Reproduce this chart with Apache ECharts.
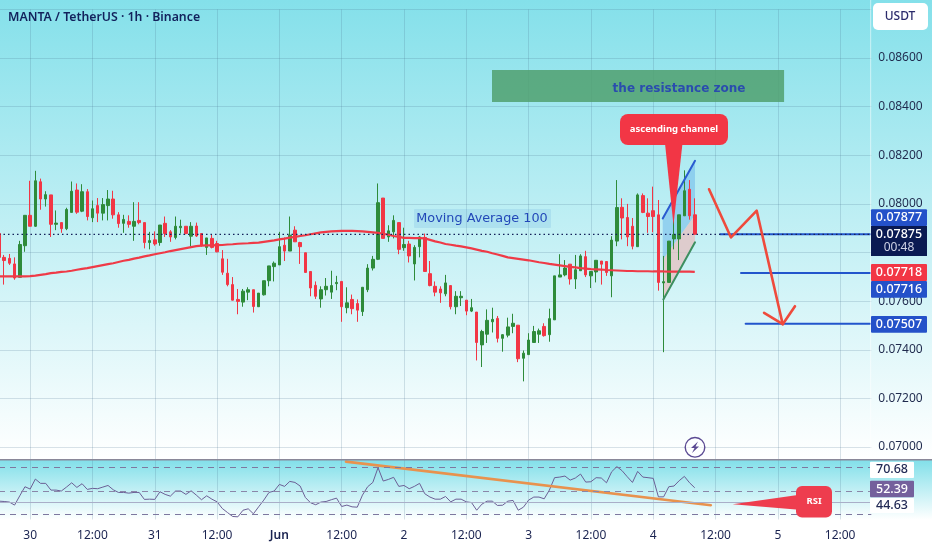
<!DOCTYPE html>
<html><head><meta charset="utf-8"><style>html,body{margin:0;padding:0;background:#fff}#c{width:932px;height:550px}</style>
<script src="https://cdn.jsdelivr.net/npm/echarts@6/dist/echarts.min.js"></script></head><body><div id="c"></div><script>
// prices below are in 1e-5 USDT units
const opens=[7878,7780,7776,7753,7698,7828,7953,7908,8091,8020,8037,7916,7923,7898,7965,8057,7970,8050,7943,7993,7962,7993,8020,7955,7920,7928,7908,7932,7923,7841,7852,7841,7920,7885,7862,7902,7908,7867,7909,7878,7821,7858,7837,7774,7715,7668,7607,7596,7637,7647,7577,7626,7684,7742,7749,7830,7806,7892,7841,7799,7722,7665,7609,7647,7637,7672,7681,7573,7607,7590,7557,7647,7736,7772,8024,7864,7885,7923,7820,7835,7753,7824,7862,7713,7661,7650,7630,7664,7577,7614,7604,7559,7555,7420,7464,7515,7529,7447,7460,7496,7501,7365,7380,7430,7464,7496,7462,7523,7699,7708,7752,7691,7725,7783,7704,7720,7765,7763,7704,7847,7986,7944,7908,7824,8034,7962,7972,7955,7675,7677,7856,7856,7951,8060,7955];
const closes=[7780,7767,7756,7695,7833,7953,7908,8095,8020,8038,7916,7921,7898,7977,8052,7966,8050,7948,7980,7962,7997,8020,7955,7919,7936,7916,7928,7923,7841,7849,7835,7913,7878,7864,7908,7908,7878,7908,7868,7830,7860,7821,7803,7719,7668,7604,7599,7641,7647,7578,7633,7684,7745,7756,7824,7806,7871,7844,7824,7718,7654,7620,7647,7661,7664,7677,7577,7593,7569,7563,7657,7736,7772,8005,7858,7889,7932,7813,7833,7786,7821,7864,7722,7664,7637,7634,7675,7577,7620,7620,7559,7573,7430,7475,7521,7525,7447,7462,7494,7509,7363,7386,7440,7475,7478,7458,7528,7704,7708,7736,7691,7729,7786,7708,7722,7768,7752,7718,7851,7985,7942,7864,7826,8037,7965,7948,7948,7677,7680,7847,7874,7955,8054,7951,7875];
const lows=[7780,7668,7749,7688,7698,7803,7908,7905,7976,7989,7864,7892,7881,7892,7965,7959,7966,7932,7925,7925,7932,7932,7939,7902,7881,7902,7848,7916,7817,7813,7828,7828,7864,7844,7854,7878,7875,7826,7864,7824,7790,7817,7801,7708,7661,7603,7546,7577,7604,7553,7576,7623,7661,7681,7749,7765,7806,7844,7753,7718,7620,7609,7573,7623,7609,7645,7515,7550,7546,7515,7539,7637,7726,7769,7858,7844,7858,7793,7807,7759,7685,7780,7722,7661,7620,7593,7620,7566,7546,7580,7542,7555,7356,7329,7428,7471,7430,7392,7451,7468,7349,7270,7380,7428,7428,7454,7433,7523,7699,7702,7668,7650,7725,7699,7654,7677,7668,7704,7616,7826,7854,7826,7813,7824,7962,7881,7883,7643,7390,7677,7813,7769,7951,7935,7874];
const highs=[7878,7790,7794,7780,7848,7953,8095,8136,8104,8052,8037,7973,7923,7984,8092,8084,8081,8061,8014,8024,8024,8057,8054,7966,7955,7953,8007,8007,7923,7885,7887,7913,7948,7892,7948,7935,7908,7925,7923,7878,7860,7875,7848,7810,7774,7699,7650,7650,7657,7647,7633,7684,7745,7763,7885,7862,7948,7908,7844,7799,7722,7681,7661,7695,7725,7704,7681,7657,7627,7607,7657,7752,7786,8084,8024,7912,7953,7923,7902,7848,7830,7867,7878,7765,7681,7661,7708,7664,7641,7641,7604,7609,7555,7482,7566,7573,7539,7464,7532,7548,7501,7397,7468,7498,7487,7509,7569,7704,7793,7769,7752,7790,7793,7807,7722,7768,7765,7765,7867,8098,8023,8000,7942,8043,8043,8023,8071,8016,7786,7847,7969,7955,8138,8098,8023];
const ma100=[7702,7702,7702,7702,7702,7702,7703,7705,7708,7711,7715,7717,7720,7722,7725,7729,7733,7736,7740,7744,7748,7752,7756,7761,7766,7770,7775,7779,7784,7788,7793,7797,7801,7806,7810,7814,7818,7822,7826,7828,7829,7829,7830,7831,7833,7834,7836,7837,7838,7840,7841,7844,7847,7850,7854,7857,7861,7864,7868,7871,7875,7879,7883,7885,7887,7888,7889,7889,7889,7888,7887,7885,7883,7881,7877,7873,7868,7864,7860,7860,7859,7859,7858,7852,7846,7841,7835,7832,7828,7825,7821,7817,7812,7807,7803,7797,7792,7786,7780,7777,7774,7771,7768,7764,7760,7757,7753,7750,7747,7744,7741,7739,7736,7734,7732,7731,7730,7728,7727,7726,7725,7724,7724,7723,7723,7723,7722,7722,7722,7721,7721,7721,7721,7721,7720];
const rsi=[41.2,40.9,40.4,37.8,45.8,53.6,51.6,60.2,56.5,56.5,50.7,50.7,49.9,53.3,57,53,56.2,51.3,52.2,51.9,53.3,54.7,51,48.7,48.7,48.1,48.7,48.7,42.7,42.9,42.7,49.3,47,45.5,49.9,49.9,47,50.1,46.4,42.4,45.8,42.9,40.6,34.9,31.4,28,27.7,33.4,34.6,30.3,36.3,42.1,48.7,49.9,55.6,53.9,58.2,57.3,54.2,44.4,39.8,38.1,40.4,40.9,42.4,43.8,36.6,37.8,36.3,36,46.4,53.6,57.3,70,58.5,59.9,61.7,53.9,54.7,51.9,53.9,56.5,47.6,44.7,42.9,42.9,45.2,40.6,42.9,42.9,40.6,40,33.4,38.6,41.2,41.2,37.5,37.7,41.2,41.8,33.4,36,42.1,44.7,44.7,43.2,50.7,61.4,61.9,62.8,59.3,61.1,64.5,57.6,57.9,61.4,61.1,57,66.5,70.9,67.4,62.2,57.3,66.8,61.9,61.4,60.8,44.9,44.9,53.6,54.2,58.8,62.5,57,52.7];
const timeTicks=['30','12:00','31','12:00','Jun','12:00','2','12:00','3','12:00','4','12:00','5','12:00'];
const priceTicks=[0.07,0.072,0.074,0.076,0.08,0.082,0.084,0.086];
const currentPriceLine=[[0,.07875],[167.8,.07875]];
// drawings: [hour index, price]
const zigzag=[[136.75,.0806],[140.98,.07862],[145.93,.07972],[150.94,.07505]];
const arrowHead=[[147.35,.07552],[150.94,.07505],[153.3,.07579]];
const level1=[[138.9,.07875],[167.8,.07875]];
const level2=[[142.9,.07716],[167.8,.07716]];
const level3=[[143.8,.07507],[167.8,.07507]];
const channelTop=[[127.83,.0794],[134.05,.08177]];
const channelBottom=[[127.95,.07607],[134.05,.07842]];
const channelUpperFill=[[127.83,.0794],[134.05,.08177],[134.05,.07954],[127.83,.07769]];
const channelLowerFill=[[127.83,.07769],[134.05,.07954],[134.05,.07842],[127.95,.07607]];
const calloutTail=[[128.3,.08242],[131.6,.08242],[129.9,.07913]];
const resistanceZone=[[94.95,.08551],[151.2,.08551],[151.2,.08419],[94.95,.08419]];
const rsiTrend=[[66.83,75.2],[137.1,37.7]];
const rsiCalloutTail=[[141.3,38.6],[153.5,46.2],[153.5,33.9]];

const N=169, TICK0=6;
const categories=[];
for(let i=0;i<N;i++){categories.push((i-TICK0)%12===0&&i>=TICK0?timeTicks[(i-TICK0)/12]:'');}
const isTick=i=>(i-TICK0)%12===0&&i>=TICK0;
const GRID='rgba(70,110,140,0.2)';
const candle=opens.map((o,i)=>[o/1e5,closes[i]/1e5,lows[i]/1e5,highs[i]/1e5]);
const poly=(pts,fill,z,xi,yi)=>({type:'custom',coordinateSystem:'cartesian2d',xAxisIndex:xi,yAxisIndex:yi,z,silent:true,clip:false,data:[pts[0]],
  renderItem:(p,api)=>({type:'polygon',shape:{points:pts.map(q=>api.coord(q))},style:{fill}})});
const line=(pts,color,width,z,xi,yi,type)=>({type:'line',xAxisIndex:xi,yAxisIndex:yi,data:pts,showSymbol:false,symbol:'none',silent:true,z,clip:false,lineStyle:{color,width,cap:type?'butt':'round',join:'round',type:type||'solid'}});
const F='"Noto Sans",sans-serif';
const box=(x,y,w,h,fill,r)=>({type:'rect',z:100,silent:true,shape:{x,y,width:w,height:h,r:r||0},style:{fill}});
const txt=(x,y,t,fill,size,weight,font)=>({type:'text',z:101,silent:true,style:{x,y,text:t,fill,font:(weight||400)+' '+size+'px '+(font||F),textAlign:'center',textVerticalAlign:'middle'}});
const tag=(x,y,w,h,fill,t,color,weight)=>[box(x,y,w,h,fill,1),txt(x+w/2,y+h/2,t,color,12.5,weight||500)];
const graphics=[
 box(870,0,1.2,459,'rgba(255,255,255,0.45)'),
 box(0,459,932,1.6,'#8a8899'),
 box(873,3,55,27,'#ffffff',5),txt(900,17,'USDT','#2b2b6b',12,500),
 txt(679,89,'the resistance zone','#2a4cae',12,700,'"DejaVu Sans",sans-serif'),
 box(414,209,137,19,'rgba(90,160,215,0.18)',1),txt(482,218.5,'Moving Average 100','#2247b8',12.8,500,'"DejaVu Sans",sans-serif'),
 box(620,114,108,31,'#f23645',8),txt(674,129.5,'ascending channel','#fff',9.5,700),
 box(796,486,36,31.5,'#ee3d4e',6),txt(814,501.5,'RSI','#fff',9.5,700),
 ...tag(871,209.3,56,16.7,'#2451c9','0.07877','#fff'),
 box(871,226,56,30,'#0a1a52',0),txt(899,234.5,'0.07875','#fff',12.5,500),txt(899,248,'00:48','#cfd3e6',12,400),
 ...tag(871,264,56,17,'#f23645','0.07718','#fff'),
 ...tag(871,281,56,16.7,'#2451c9','0.07716','#fff'),
 ...tag(871,316,56,16.7,'#2451c9','0.07507','#fff'),
 ...tag(870,461.7,44,16.3,'#ffffff','70.68','#222a55'),
 ...tag(870,480.7,44,16.6,'#74609c','52.39','#fff'),
 ...tag(870,498,44,15,'#ffffff','44.63','#222a55'),
 {type:'circle',z:100,silent:true,shape:{cx:695,cy:447.3,r:9.8},style:{fill:'rgba(255,255,255,0.5)',stroke:'#5b4a93',lineWidth:1.4}},
 {type:'polygon',z:101,silent:true,shape:{points:[[698,441.5],[691,448],[694.5,448],[692,453],[699,446.5],[695.5,446.5]]},style:{fill:'#5b4a93'}}
];
const option={
 animation:false,
 backgroundColor:{type:'linear',x:0,y:0,x2:0,y2:1,colorStops:[
   {offset:0,color:'#84e0ea'},{offset:0.8345,color:'#ffffff'},{offset:0.8346,color:'#80dfe9'},{offset:0.945,color:'#ffffff'},{offset:1,color:'#ffffff'}]},
 title:{text:'MANTA / TetherUS · 1h · Binance',left:3,top:6,textStyle:{fontFamily:F,fontSize:12.3,fontWeight:600,color:'#12215c'}},
 grid:[{left:-1,width:872.3,top:9.4,height:437.6,outerBoundsMode:'none'},{left:-1,width:872.3,top:447,height:72.5,outerBoundsMode:'none'}],
 xAxis:[
  {type:'category',gridIndex:0,data:categories,boundaryGap:false,axisLabel:{show:false},axisLine:{show:false},axisTick:{show:false},splitLine:{show:true,interval:isTick,lineStyle:{color:GRID}}},
  {type:'category',gridIndex:1,data:categories,boundaryGap:false,axisLine:{show:false},axisTick:{show:false},splitLine:{show:true,interval:isTick,lineStyle:{color:GRID}},
   axisLabel:{interval:isTick,margin:10,fontFamily:F,fontSize:12,color:'#1a2350',hideOverlap:false,showMinLabel:true,showMaxLabel:true,
    formatter:v=>v==='Jun'?'{b|Jun}':v,rich:{b:{fontFamily:F,fontSize:12,fontWeight:600,color:'#1a2350'}}}},
  {type:'value',gridIndex:0,min:0,max:168,show:false},
  {type:'value',gridIndex:1,min:0,max:168,show:false}
 ],
 yAxis:[
  {type:'value',gridIndex:0,position:'right',min:0.07,max:0.088,interval:0.002,axisLine:{show:false},axisTick:{show:false},splitLine:{lineStyle:{color:GRID}},
   axisLabel:{margin:7,fontFamily:F,fontSize:12,color:'#1f2a4d',formatter:v=>priceTicks.some(t=>Math.abs(t-v)<1e-6)?v.toFixed(5):''}},
  {type:'value',gridIndex:1,min:25.4,max:87.8,show:false}
 ],
 series:[
  poly(resistanceZone,'rgba(80,160,110,0.85)',1,2,0),
  poly(channelUpperFill,'rgba(120,190,235,0.62)',1,2,0),
  poly(channelLowerFill,'rgba(232,190,190,0.72)',1,2,0),
  {type:'candlestick',xAxisIndex:0,yAxisIndex:0,data:candle,barWidth:3,z:3,silent:true,
   itemStyle:{color:'#2e8b3a',color0:'#f23645',borderColor:'#2e8b3a',borderColor0:'#f23645',borderWidth:1}},
  {type:'line',xAxisIndex:0,yAxisIndex:0,data:ma100.map(v=>v/1e5),showSymbol:false,symbol:'none',smooth:false,silent:true,z:4,lineStyle:{color:'#ef3a47',width:2.2}},
  line(level1,'#2255cc',2,4,2,0),line(level2,'#2255cc',2,4,2,0),line(level3,'#2255cc',2,4,2,0),
  line(currentPriceLine,'#14205a',1.2,4.5,2,0,[1.5,3]),
  line(channelTop,'#2a5bd0',2,4,2,0),line(channelBottom,'#3d8f60',2,4,2,0),
  line(zigzag,'#ef4a3c',2.6,5,2,0),line(arrowHead,'#ef4a3c',2.6,5,2,0),
  poly(calloutTail,'#f23645',6,2,0),
  {type:'line',xAxisIndex:1,yAxisIndex:1,data:rsi,showSymbol:false,symbol:'none',silent:true,z:3,lineStyle:{color:'#6b5f95',width:1},
   markLine:{silent:true,symbol:'none',label:{show:false},animation:false,data:[
    {yAxis:70,lineStyle:{color:'#7d789f',type:[6,5],width:1.2}},
    {yAxis:50,lineStyle:{color:'#8a86a8',type:[6,5],width:1}},
    {yAxis:40,lineStyle:{color:'#a9aec8',type:'solid',width:1}},
    {yAxis:30,lineStyle:{color:'#7d789f',type:[6,5],width:1.2}}]}},
  line(rsiTrend,'#e8924e',2.6,4,3,1),
  poly(rsiCalloutTail,'#ee3d4e',5,3,1)
 ],
 graphic:graphics
};
const chart=echarts.init(document.getElementById('c'),null,{width:932,height:550});
chart.setOption(option);
</script></body></html>
